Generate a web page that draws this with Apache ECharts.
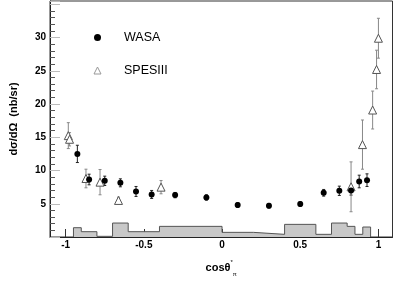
<!DOCTYPE html>
<html>
<head>
<meta charset="utf-8">
<script src="https://cdn.jsdelivr.net/npm/echarts@6/dist/echarts.min.js"></script>
<style>
html,body{margin:0;padding:0;background:#fff;}
#chart{width:395px;height:282px;}
</style>
</head>
<body>
<div id="chart"></div>
<script>
// WASA data (filled circles)
const wasaX   = [-0.925, -0.85, -0.75, -0.65, -0.55, -0.45, -0.30, -0.10, 0.10, 0.30, 0.50, 0.65, 0.75, 0.825, 0.877, 0.927];
const wasaY   = [12.5, 8.65, 8.45, 8.15, 6.85, 6.4, 6.3, 5.95, 4.8, 4.7, 4.95, 6.65, 6.95, 7.0, 8.35, 8.55];
const wasaErr = [1.3, 0.8, 0.7, 0.6, 0.75, 0.6, 0.4, 0.4, 0.35, 0.35, 0.35, 0.5, 0.7, 0.7, 0.95, 0.95];

// SPESIII data (open triangles)
const speX   = [-0.983, -0.975, -0.87, -0.78, -0.662, -0.39, 0.825, 0.898, 0.963, 0.988, 1.0];
const speY   = [15.25, 14.7, 8.8, 8.25, 5.5, 7.5, 7.55, 13.9, 19.1, 25.2, 29.9];
const speErr = [1.95, 1.0, 1.4, 1.9, 0.5, 1.0, 3.75, 3.7, 2.85, 2.9, 3.0];

// acceptance histogram (bin edges and heights)
const histEdges = [-0.95, -0.9, -0.8, -0.7, -0.6, -0.4, 0.0, 0.2, 0.4, 0.6, 0.7, 0.8, 0.85, 0.9, 0.95];
const histVals  = [1.4, 0.8, 0.1, 2.1, 0.8, 1.6, 0.7, 0.4, 1.9, 0.4, 2.1, 1.6, 0.4, 1.5];

// tick labels
const xTickValues = [-1, -0.5, 0, 0.5, 1];
const yTickValues = [5, 10, 15, 20, 25, 30];

const FONT = '"Liberation Sans", Arial, Helvetica, sans-serif';

const histData = [[histEdges[0], 0]].concat(
  histEdges.map((e, i) => [e, i < histVals.length ? histVals[i] : 0])
);
const wasaPts = wasaX.map((x, i) => [x, wasaY[i]]);
const wasaErrPts = wasaX.map((x, i) => [x, wasaY[i], wasaErr[i]]);
const spePts = speX.map((x, i) => [x, speY[i]]);
const speErrPts = speX.map((x, i) => [x, speY[i], speErr[i]]);

function errRender(color) {
  return function (params, api) {
    const x = api.value(0), y = api.value(1), e = api.value(2);
    const t = api.coord([x, y + e]);
    const b = api.coord([x, y - e]);
    const c = 1.5;
    const st = { stroke: color, lineWidth: 1 };
    return {
      type: 'group',
      children: [
        { type: 'line', shape: { x1: t[0], y1: t[1], x2: b[0], y2: b[1] }, style: st },
        { type: 'line', shape: { x1: t[0] - c, y1: t[1], x2: t[0] + c, y2: t[1] }, style: st },
        { type: 'line', shape: { x1: b[0] - c, y1: b[1], x2: b[0] + c, y2: b[1] }, style: st }
      ]
    };
  };
}

const chart = echarts.init(document.getElementById('chart'), null, { renderer: 'canvas' });
chart.setOption({
  animation: false,
  backgroundColor: '#fff',
  grid: { left: 41, right: 2.5, top: 1, bottom: 33, show: true, borderColor: '#333', borderWidth: 1 },
  legend: {
    data: [
      { name: 'WASA' },
      { name: 'SPESIII', itemStyle: { color: '#fff', borderColor: '#999', borderWidth: 1 } }
    ],
    orient: 'vertical',
    left: 88.5,
    top: 26,
    itemWidth: 7,
    itemHeight: 7,
    itemGap: 20,
    textStyle: { fontFamily: FONT, fontSize: 12.5, color: '#000', padding: [0, 0, 0, 18] }
  },
  xAxis: {
    type: 'value',
    min: -1.1,
    max: 1.09,
    name: '{a|cosθ}{sup|*}{sub|π}',
    nameLocation: 'middle',
    nameGap: 22,
    nameTextStyle: {
      rich: {
        a: { fontFamily: FONT, fontSize: 11, fontWeight: 'bold', color: '#000', lineHeight: 18 },
        sup: { fontFamily: FONT, fontSize: 6, color: '#000', verticalAlign: 'top', lineHeight: 18 },
        sub: { fontFamily: FONT, fontSize: 6, color: '#000', verticalAlign: 'bottom', lineHeight: 18 }
      }
    },
    axisLine: { onZero: false, lineStyle: { color: '#222', width: 1 } },
    axisTick: { inside: true, length: 8, customValues: xTickValues, lineStyle: { color: '#333' } },
    axisLabel: { customValues: xTickValues, fontFamily: FONT, fontSize: 10, fontWeight: 'bold', color: '#000', margin: 3 },
    splitLine: { show: false }
  },
  yAxis: {
    type: 'value',
    min: 0,
    max: 35.5,
    interval: 5,
    name: 'dσ/dΩ  (nb/sr)',
    nameLocation: 'middle',
    nameGap: 31,
    nameRotate: 90,
    nameTextStyle: { fontFamily: FONT, fontSize: 11, fontWeight: 'bold', color: '#000' },
    axisLine: { show: true, onZero: false, lineStyle: { color: '#222', width: 1 } },
    axisTick: { inside: true, length: 10, lineStyle: { color: '#bbb' } },
    minorTick: { show: true, splitNumber: 5, length: 5, lineStyle: { color: '#555' } },
    axisLabel: { customValues: yTickValues, fontFamily: FONT, fontSize: 10, fontWeight: 'bold', color: '#000', margin: 4 },
    splitLine: { show: false }
  },
  series: [
    {
      name: 'acceptance',
      type: 'line',
      step: 'end',
      data: histData,
      symbol: 'none',
      lineStyle: { color: '#555', width: 1 },
      areaStyle: { color: '#c8c8c8', opacity: 1 },
      z: 1,
      silent: true
    },
    {
      name: 'WASA err',
      type: 'custom',
      data: wasaErrPts,
      encode: { x: 0, y: 1 },
      renderItem: errRender('#222'),
      z: 3,
      silent: true
    },
    {
      name: 'SPESIII err',
      type: 'custom',
      data: speErrPts,
      encode: { x: 0, y: 1 },
      renderItem: errRender('#888'),
      z: 3,
      silent: true
    },
    {
      name: 'SPESIII',
      type: 'scatter',
      data: spePts,
      symbol: 'triangle',
      symbolSize: 8,
      itemStyle: { color: '#fff', borderColor: '#555', borderWidth: 1, opacity: 1 },
      z: 4
    },
    {
      name: 'WASA',
      type: 'scatter',
      data: wasaPts,
      symbol: 'circle',
      symbolSize: 6,
      itemStyle: { color: '#000', opacity: 1 },
      z: 5
    }
  ]
});
</script>
</body>
</html>
